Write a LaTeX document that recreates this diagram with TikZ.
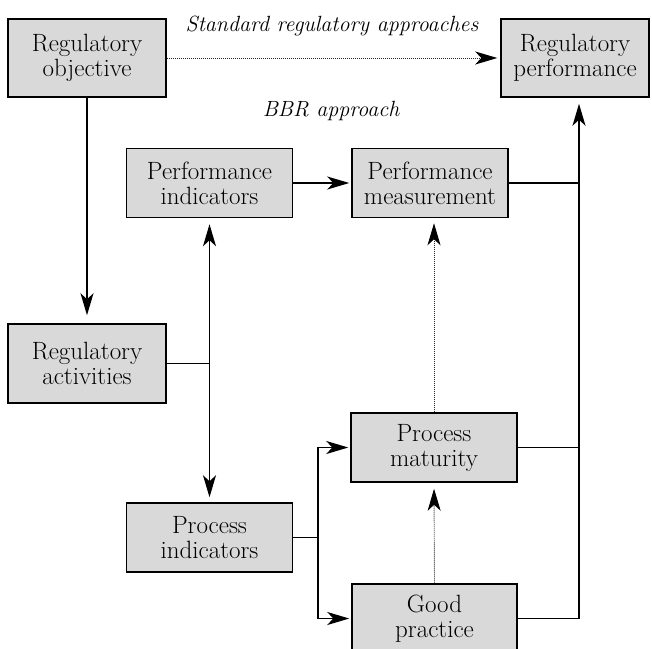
\documentclass[tikz,border=0pt]{standalone}
\usetikzlibrary{arrows.meta}
\definecolor{boxgray}{HTML}{D9D9D9}

\begin{document}
\begin{tikzpicture}[x=1pt,y=-1pt,
  box/.style={draw, line width=1.5pt, fill=boxgray, inner sep=0pt, align=center,
    font=\fontsize{25}{25}\selectfont},
  link/.style={line width=1.4pt},
  tip/.style={-{Stealth[length=22pt,width=13pt,inset=6pt]}},
  both/.style={{Stealth[length=22pt,width=13pt,inset=6pt]}-{Stealth[length=22pt,width=13pt,inset=6pt]}},
  dots/.style={line width=0.9pt, dash pattern=on 1pt off 1pt, draw=black!85,
    -{Stealth[length=22pt,width=13pt,inset=6pt,color=black]}},
  caption/.style={inner sep=0pt, font=\itshape\fontsize{22}{24}\selectfont}
]
\useasboundingbox (0,0) rectangle (652,648);

% boxes
\node[box, minimum width=158pt, minimum height=78pt] (obj)  at (87,58)       {Regulatory\\objective};
\node[box, minimum width=148pt, minimum height=78pt] (perf) at (575,58)      {Regulatory\\performance};
\node[box, minimum width=166pt, minimum height=69pt] (pind) at (209.5,183)   {Performance\\indicators};
\node[box, minimum width=156pt, minimum height=69pt] (meas) at (430,183)     {Performance\\measurement};
\node[box, minimum width=158pt, minimum height=79pt] (act)  at (87,363.5)    {Regulatory\\activities};
\node[box, minimum width=166pt, minimum height=69pt] (proc) at (209.5,537.5) {Process\\indicators};
\node[box, minimum width=166pt, minimum height=69pt] (mat)  at (434,447.5)   {Process\\maturity};
\node[box, minimum width=165pt, minimum height=69pt] (good) at (434.5,618.5) {Good\\practice};

% captions
\node[caption] (std) at (332,26)  {Standard regulatory approaches};
\node[caption] (bbr) at (331,111) {BBR approach};

% junction points
\coordinate (fork) at (318,537.5);
\coordinate (bus)  at (579,618.5);

% standard route
\draw[dots, shorten >=3pt] (obj.east) -- (perf.west);
\draw[link, tip, shorten >=8pt] (obj.south) -- (act.north);

% BBR route
\draw[link, tip, shorten >=2pt] (pind.east) -- (meas.west);
\draw[link, both, shorten <=6pt, shorten >=5pt] (pind.south) -- (proc.north);
\draw[link] (act.east) -- (act.east -| pind.south);
\draw[link] (proc.east) -- (fork);
\draw[link, tip, shorten >=2pt] (fork) |- (mat.west);
\draw[link, tip, shorten >=2pt] (fork) |- (good.west);
\draw[dots, shorten >=5pt] (mat.north) -- (mat.north |- meas.south);
\draw[dots, shorten >=6pt] (good.north) -- (mat.south);

% collecting bus into regulatory performance
\draw[link, tip, shorten >=6pt] (good.east) -| (bus |- perf.south);
\draw[link] (meas.east) -- (meas.east -| bus);
\draw[link] (mat.east) -- (mat.east -| bus);
\end{tikzpicture}
\end{document}
